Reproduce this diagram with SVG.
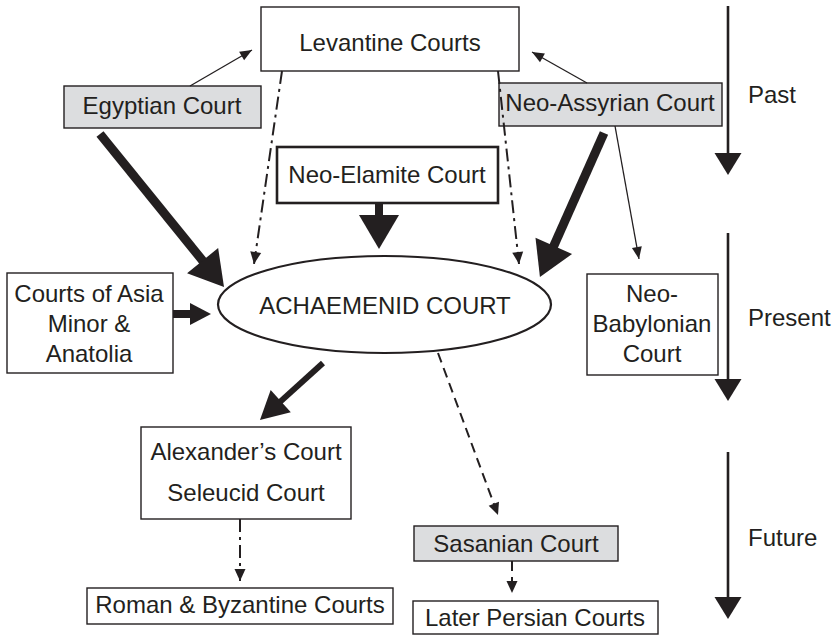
<svg xmlns="http://www.w3.org/2000/svg" width="835" height="635" viewBox="0 0 835 635">
<style>
  .box { fill: #ffffff; stroke: #231f20; stroke-width: 1.4; }
  .grey { fill: #dcdddf; stroke: #231f20; stroke-width: 1.4; }
  .bold { fill: #ffffff; stroke: #231f20; stroke-width: 2.6; }
  .ell { fill: #ffffff; stroke: #231f20; stroke-width: 2.2; }
  text { font-family: "Liberation Sans", Arial, Helvetica, sans-serif; font-size: 24px; fill: #231f20; }
  .c { text-anchor: middle; }
  .thin { stroke: #231f20; stroke-width: 1.3; fill: none; marker-end: url(#hThin); }
  .dd { stroke: #231f20; stroke-width: 2; fill: none; stroke-dasharray: 13 5 3 5; marker-end: url(#hDash); }
  .da { stroke: #231f20; stroke-width: 2; fill: none; stroke-dasharray: 10 6; marker-end: url(#hDash); }
  .thick { stroke: #231f20; stroke-width: 9; fill: none; marker-end: url(#hBig); }
  .stub { stroke: #231f20; stroke-width: 8; fill: none; marker-end: url(#hBig); }
  .mid { stroke: #231f20; stroke-width: 8; fill: none; marker-end: url(#hSmall); }
  .med { stroke: #231f20; stroke-width: 6; fill: none; marker-end: url(#hMed); }
  .time { stroke: #231f20; stroke-width: 2.6; fill: none; marker-end: url(#hTime); }
</style>
<defs>
  <marker id="hThin" markerUnits="userSpaceOnUse" markerWidth="12" markerHeight="10" refX="12" refY="5" orient="auto" overflow="visible">
    <path d="M0,0 L12,5 L0,10 z" fill="#231f20"/>
  </marker>
  <marker id="hDash" markerUnits="userSpaceOnUse" markerWidth="12" markerHeight="11" refX="12" refY="5.5" orient="auto" overflow="visible">
    <path d="M0,0 L12,5.5 L0,11 z" fill="#231f20"/>
  </marker>
  <marker id="hBig" markerUnits="userSpaceOnUse" markerWidth="34" markerHeight="40" refX="10" refY="20" orient="auto" overflow="visible">
    <path d="M0,0 L34,20 L0,40 z" fill="#231f20"/>
  </marker>
  <marker id="hSmall" markerUnits="userSpaceOnUse" markerWidth="21" markerHeight="22" refX="6" refY="11" orient="auto" overflow="visible">
    <path d="M0,0 L21,11 L0,22 z" fill="#231f20"/>
  </marker>
  <marker id="hMed" markerUnits="userSpaceOnUse" markerWidth="28" markerHeight="30" refX="8" refY="15" orient="auto" overflow="visible">
    <path d="M0,0 L28,15 L0,30 z" fill="#231f20"/>
  </marker>
  <marker id="hTime" markerUnits="userSpaceOnUse" markerWidth="22" markerHeight="27" refX="2" refY="13.5" orient="auto" overflow="visible">
    <path d="M0,0 L22,13.5 L0,27 z" fill="#231f20"/>
  </marker>
</defs>

<g id="levantine">
  <rect class="box" x="261" y="7" width="258" height="64"/>
  <text class="c" x="390" y="51">Levantine Courts</text>
</g>
<g id="egyptian">
  <rect class="grey" x="64" y="86" width="197" height="42"/>
  <text class="c" x="162" y="114">Egyptian Court</text>
</g>
<g id="neo-assyrian">
  <rect class="grey" x="499" y="83" width="223" height="43"/>
  <text class="c" x="610" y="111">Neo-Assyrian Court</text>
</g>
<g id="neo-elamite">
  <rect class="bold" x="277" y="147" width="221" height="56"/>
  <text class="c" x="387" y="183">Neo-Elamite Court</text>
</g>
<g id="achaemenid">
  <ellipse class="ell" cx="384.5" cy="304.5" rx="166.5" ry="48.5"/>
  <text class="c" x="385" y="314">ACHAEMENID COURT</text>
</g>
<g id="asia-minor">
  <rect class="box" x="7" y="273" width="166" height="100"/>
  <text class="c" x="89" y="302">Courts of Asia</text>
  <text class="c" x="89" y="332">Minor &amp;</text>
  <text class="c" x="89" y="362">Anatolia</text>
</g>
<g id="neo-babylonian">
  <rect class="box" x="587" y="274" width="131" height="101"/>
  <text class="c" x="652" y="302">Neo-</text>
  <text class="c" x="652" y="332">Babylonian</text>
  <text class="c" x="652" y="362">Court</text>
</g>
<g id="alexander">
  <rect class="box" x="141" y="427" width="210" height="92"/>
  <text class="c" x="246" y="460">Alexander’s Court</text>
  <text class="c" x="246" y="501">Seleucid Court</text>
</g>
<g id="roman">
  <rect class="box" x="87" y="588" width="306" height="36"/>
  <text class="c" x="240" y="613">Roman &amp; Byzantine Courts</text>
</g>
<g id="sasanian">
  <rect class="grey" x="414" y="526" width="204" height="35"/>
  <text class="c" x="516" y="552">Sasanian Court</text>
</g>
<g id="later-persian">
  <rect class="box" x="413" y="601" width="245" height="33"/>
  <text class="c" x="535" y="626">Later Persian Courts</text>
</g>

<g id="connectors">
  <line class="thin" x1="190" y1="86" x2="252" y2="50"/>
  <line class="thin" x1="587" y1="83" x2="532" y2="52"/>
  <line class="thin" x1="615" y1="126" x2="639" y2="259"/>
  <line class="dd" x1="282" y1="71" x2="254" y2="264"/>
  <line class="dd" x1="498" y1="71" x2="519" y2="264"/>
  <line class="dd" x1="240" y1="519" x2="240" y2="581"/>
  <line class="da" x1="438" y1="353" x2="498" y2="515"/>
  <line class="da" x1="512" y1="561" x2="512" y2="593"/>
  <line class="thick" x1="100" y1="134" x2="208.9" y2="268.4"/>
  <line class="thick" x1="604" y1="133" x2="549.7" y2="255.1"/>
  <line class="stub" x1="379" y1="203" x2="379" y2="225"/>
  <line class="mid" x1="173" y1="314" x2="196" y2="314"/>
  <line class="med" x1="323" y1="363" x2="274.8" y2="406.6"/>
</g>

<g id="timeline">
  <line class="time" x1="728" y1="6" x2="728" y2="155"/>
  <line class="time" x1="728" y1="233" x2="728" y2="381"/>
  <line class="time" x1="728" y1="452" x2="728" y2="599"/>
  <text x="748" y="103">Past</text>
  <text x="748" y="326">Present</text>
  <text x="748" y="546">Future</text>
</g>
</svg>
